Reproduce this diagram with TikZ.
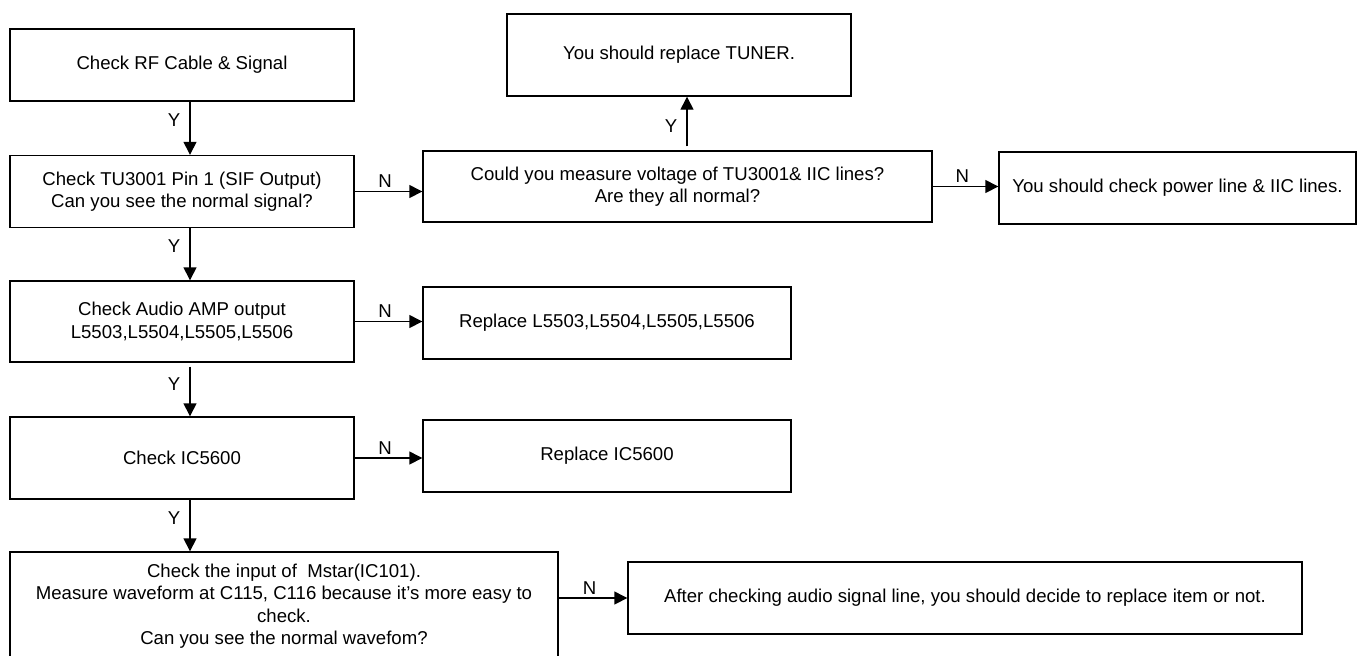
\documentclass[tikz,border=0pt]{standalone}
\usepackage{fontspec}
\setmainfont{Liberation Sans}
\usetikzlibrary{arrows.meta}

\begin{document}
\begin{tikzpicture}[x=0.5pt, y=-0.5pt,
  font=\fontsize{9.3pt}{11.2pt}\selectfont,
  box/.style={draw, line width=0.7pt, inner sep=0pt, align=center},
  arr/.style={line width=0.7pt, -{Triangle[length=6.5pt,width=6.5pt]}},
  lbl/.style={inner sep=1.5pt}]
  \useasboundingbox (0,0) rectangle (1358,655);
  \clip (0,0) rectangle (1358,655);

  % left column
  \node[box, minimum width=172pt, minimum height=36pt] (rf) at (182,65) {Check RF Cable \& Signal};
  \node[box, minimum width=172pt, minimum height=36pt] (tu) at (182,191.5) {Check TU3001 Pin 1 (SIF Output)\\Can you see the normal signal?};
  \node[box, minimum width=172pt, minimum height=40.5pt] (audio) at (182,321.5) {Check Audio AMP output\\L5503,L5504,L5505,L5506};
  \node[box, minimum width=172pt, minimum height=41pt] (ic) at (182,458) {Check IC5600};
  \node[box, minimum width=274pt, minimum height=54pt] (mstar) at (284,606) {Check the input of \ Mstar(IC101).\\Measure waveform at C115, C116 because it’s more easy to\\check.\\Can you see the normal wavefom?};

  % right side
  \node[box, minimum width=172pt, minimum height=41pt] (tuner) at (679,55) {You should replace TUNER.};
  \node[box, minimum width=254.5pt, minimum height=35.5pt] (could) at (677.5,186.5) {Could you measure voltage of TU3001\& IIC lines?\\Are they all normal?};
  \node[box, minimum width=178.5pt, minimum height=36pt] (power) at (1177.5,188) {You should check power line \& IIC lines.};
  \node[box, minimum width=184pt, minimum height=36pt] (repl) at (607,323) {Replace L5503,L5504,L5505,L5506};
  \node[box, minimum width=184pt, minimum height=36pt] (repic) at (607,456) {Replace IC5600};
  \node[box, minimum width=337pt, minimum height=36pt] (after) at (965,598) {After checking audio signal line, you should decide to replace item or not.};

  \coordinate (ycol) at (190,0);
  \coordinate (tcol) at (687,0);

  % Y arrows
  \draw[arr] (rf.south -| ycol) -- node[lbl, left=3pt, pos=0.35] {Y} (tu.north -| ycol);
  \draw[arr] (tu.south -| ycol) -- node[lbl, left=3pt, pos=0.35] {Y} (audio.north -| ycol);
  \draw[arr] (audio.south -| ycol) ++(0,4) -- node[lbl, left=3pt, pos=0.35] {Y} (ic.north -| ycol);
  \draw[arr] (ic.south -| ycol) -- node[lbl, left=3pt, pos=0.35] {Y} (mstar.north -| ycol);
  \draw[arr] (could.north -| tcol) ++(0,-4) -- node[lbl, left=3pt, pos=0.4] {Y} (tuner.south -| tcol);

  % N arrows
  \draw[arr] (tu.east) -- node[lbl, above, pos=0.45] {N} (could.west |- tu.east);
  \draw[arr] (could.east) -- node[lbl, above, pos=0.45] {N} (power.west |- could.east);
  \draw[arr] (audio.east) -- node[lbl, above, pos=0.45] {N} (repl.west |- audio.east);
  \draw[arr] (ic.east) -- node[lbl, above, pos=0.45] {N} (repic.west |- ic.east);
  \draw[arr] (mstar.east |- after.west) -- node[lbl, above, pos=0.45] {N} (after.west);
\end{tikzpicture}
\end{document}
